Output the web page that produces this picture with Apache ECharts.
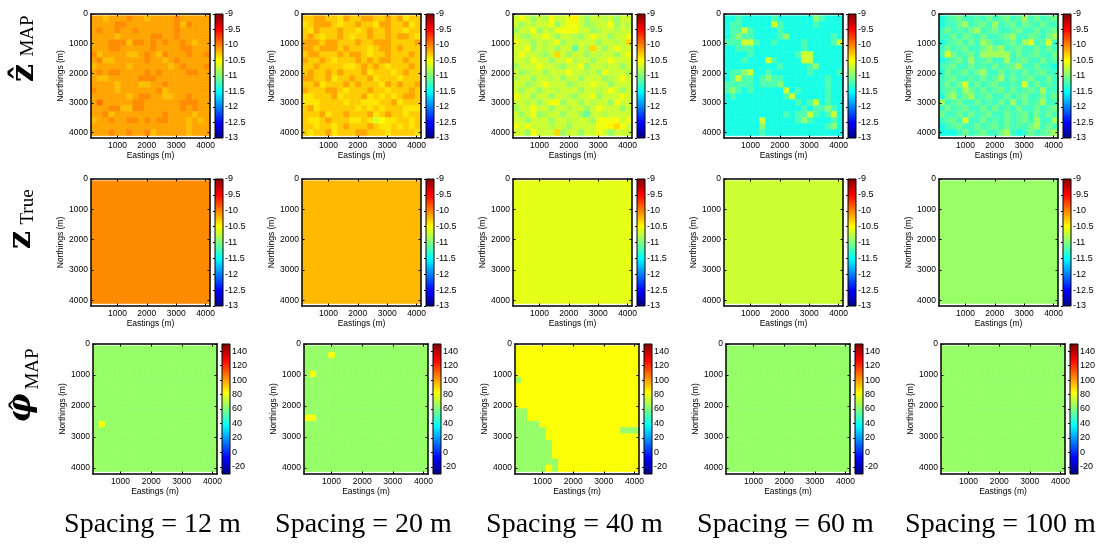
<!DOCTYPE html>
<html>
<head>
<meta charset="utf-8">
<script src="https://cdn.jsdelivr.net/npm/echarts@6/dist/echarts.min.js"></script>
<style>
  html, body { margin: 0; padding: 0; background: #fff; }
  #chart { width: 1104px; height: 547px; }
</style>
</head>
<body>
<div id="chart"></div>
<script>
// ---- data -------------------------------------------------------------
const spacings = ['12 m', '20 m', '40 m', '60 m', '100 m'];

// log-scale values on a 20 x 20 cell grid, one letter per cell
const zLevel = {
  a: -9.85, b: -9.9, c: -9.95, d: -10.0, e: -10.05, f: -10.1, g: -10.15, h: -10.2,
  i: -10.25, j: -10.3, k: -10.35, l: -10.4, m: -10.45, n: -10.5, o: -10.55, p: -10.6,
  q: -10.65, r: -10.7, s: -10.75, t: -10.8, u: -10.85, v: -10.9, w: -10.95, x: -11.0,
  y: -11.05, z: -11.1, A: -11.15, B: -11.2, C: -11.25, D: -11.3, E: -11.35, F: -11.4
};

const zMap12 = [
  'ggigggeggiggggeggggg', 'ggggeeggggggggeieggg', 'geggeggeggggggeggggg', 'ggggiggggg' + 'eeggeggggg',
  'gggeeeieeg' + 'egeggegigg', 'gggeeggggg' + 'eggggeeggg', 'eiggggiige' + 'giegggegge', 'geiiggggge' + 'ggigeggggg',
  'igggggiggg' + 'gggigeggge', 'gegeegggge' + 'geggggeegg', 'giigggggee' + 'eggggggggg', 'ggggigggii' + 'ggeggggggg',
  'egggiggggg' + 'geiggggggg', 'ggggggigee' + 'ggiiggeggg', 'gcgggggeeg' + 'gggggeeegg', 'gggeeiieeg' + 'gggggegegg',
  'ggeigggggg' + 'ggeggggigg', 'iggeggeege' + 'geegggigig', 'gggggggggg' + 'ggggggiggg', 'gggeggegge' + 'igggggiggg'
];
const zMap20 = [
  'jjggjjlgjjggjjgjgljj', 'ljgggjljjgjjlggjjglj', 'jlgjjjgjjljgjjgjjljj', 'jgjljjgjljjgjjgjggjl',
  'gggjggjjjgjjgggjjjjg', 'ggjgggjgjjjljggjgjjj', 'jggjjjgjggjljjgjjjgj', 'gjjgjljjjgjgjggjjgjj',
  'jjgjjjjlljgjgjljjjgj', 'jgjjgjgjjjgljjjljgjj', 'ggjjgljjgjjgljjjljjj', 'jjgljjjgjgjjjlgjgjjg',
  'gjjjggjljjjgjjljjjgj', 'lljjjgljjjgljljljggj', 'llljjjjljjllljjgljjj', 'jgljjjjjjljljljjjlll',
  'jjjgljjgjjjgljgjjljj', 'jlljgjjjlljlqnlljjlj', 'jjljjljgjjjgjlljljlj', 'jljjgljjjggjjjljjjjl'
];
const zMap40 = [
  'rorvrtorromrvrrtrvrr', 'rvrtrrovroorvtrrovrt', 'vrrovrtoooorrvtrrtrr', 'rtvrrorvrrtvrorrvrro',
  'orrvrtrovrtrrrvrrtrk', 'rrovrtrvrrzrtkrvrorr', 'rorrtvrkrvrrvrtrrvro', 'rrtorrvrrotrrvrrorrr',
  'vrrrorrtvrrovrrtrrvr', 'rvtrrvrrrorrtrvorrrt', 'trrvrrtrvrrvrrrvtror', 'rrvtrorrrvtrrorrvrrr',
  'rvrrvrrtrrrvrrtrorvr', 'orrvrrvrrtvrrovrrror', 'rrtrvroovrrvrtrrvorr', 'vrrorrvrrtrrvrorrrvr',
  'rvrovtrrvrrvzrrtrrrr', 'rrvrrrvrrtrrrvooooro', 'ororrrtrrvrrrroomkor', 'rrvorrrkvrrvrrorvrrr'
];
const zMap60 = [
  'FFBFFFFFBFFFFFFwBFFF', 'FBBFFFFFrBFFFFFBFFFF', 'FBBrBFFFFBFFFFFFFFFF', 'FBwBBFFFFBwFFFFFFFBF',
  'BBBrrBFFBFFFFBFFFFBr', 'FFBBBFFFFFFFFBFFFFFF', 'FFFFBFFFFFFFBrrFFFFF', 'FFFBFFFrBFFFFrrFFFFF',
  'FFFFFFFFFBFFFFBwFFFF', 'FBBwrFFBFFFFFFBFFFFB', 'FBrBBFBwBBFFFFFFFBFF', 'BBBBBFBBBwFFFFFFFBFF',
  'BwBFBFFFFFrFBFFFFBFF', 'FBFFFFFFFFBrFFFFFBFF', 'FFFFFFFFFFFFBFBrFBFF', 'FFFFFFFFFFFFFBFBBwBF',
  'FFFFFFFFFFBFBBrBFBrF', 'FFFFFFrFFFFFBwBFFFBF', 'FFFFFFwFFFFFFFFFFBwF', 'FFFFFFBFFFFFFFFFFFFF'
];
const zMap100 = [
  'FCAyCCACyCAyCAuCyCAy', 'FCCyuCAyCuCAyCyACyCC', 'CyCACyuCAyCCAyCCyCAy', 'CCyCyACyCCAyuCCyACyu',
  'FCAyCyCuyCCAyCuqCAqC', 'CyCAyCCyuyuCAyCCyCyC', 'CqyCAyCuuuuuCyCAyCCy', 'FCAyCuCAyCCuCAyCCyCA',
  'CAyCCyCACyCAyuCCyCCF', 'FyCAyCyuCCyCACyCAyCC', 'CAyCCACyCAuCyCAyCCyC', 'CyCyqCyCAyCCACqCyCAC',
  'CAyCuyCyCAyCyCAyCuCC', 'FyuCyuCAyCCyCAyCCyCy', 'uCAyCCyCACyCuCyCAuCC', 'CyCAyCCyCyCACyCCyCAy',
  'yCCyCyCAyCCyCAyCyCyC', 'CAyCqCCyCACyCAyCuCCu', 'FCAyCCyCAyCyCACyuCyC', 'FFFCyCAyCCyuCFCyCAyu'
];

// true (uniform) value for each spacing
const zTrue = [-10.05, -10.23, -10.6, -10.7, -10.9];

// phase estimates: G = 64, Y = 82
const phiLevel = { G: 64, Y: 82 };
const phiMap12 = [
  'GGGGGGGGGGGGGGGGGGGG', 'GGGGGGGGGGGGGGGGGGGG', 'GGGGGGGGGGGGGGGGGGGG', 'GGGGGGGGGGGGGGGGGGGG',
  'GGGGGGGGGGGGGGGGGGGG', 'GGGGGGGGGGGGGGGGGGGG', 'GGGGGGGGGGGGGGGGGGGG', 'GGGGGGGGGGGGGGGGGGGG',
  'GGGGGGGGGGGGGGGGGGGG', 'GGGGGGGGGGGGGGGGGGGG', 'GGGGGGGGGGGGGGGGGGGG', 'GGGGGGGGGGGGGGGGGGGG',
  'GYGGGGGGGGGGGGGGGGGG', 'GGGGGGGGGGGGGGGGGGGG', 'GGGGGGGGGGGGGGGGGGGG', 'GGGGGGGGGGGGGGGGGGGG',
  'GGGGGGGGGGGGGGGGGGGG', 'GGGGGGGGGGGGGGGGGGGG', 'GGGGGGGGGGGGGGGGGGGG', 'GGGGGGGGGGGGGGGGGGGG'
];
const phiMap20 = [
  'GGGGGGGGGGGGGGGGGGGG', 'GGGGYGGGGGGGGGGGGGGG', 'GGGGGGGGGGGGGGGGGGGG', 'GGGGGGGGGGGGGGGGGGGG',
  'GYGGGGGGGGGGGGGGGGGG', 'GGGGGGGGGGGGGGGGGGGG', 'GGGGGGGGGGGGGGGGGGGG', 'GGGGGGGGGGGGGGGGGGGG',
  'GGGGGGGGGGGGGGGGGGGG', 'GGGGGGGGGGGGGGGGGGGG', 'GGGGGGGGGGGGGGGGGGGG', 'YYGGGGGGGGGGGGGGGGGG',
  'GGGGGGGGGGGGGGGGGGGG', 'GGGGGGGGGGGGGGGGGGGG', 'GGGGGGGGGGGGGGGGGGGG', 'GGGGGGGGGGGGGGGGGGGG',
  'GGGGGGGGGGGGGGGGGGGG', 'GGGGGGGGGGGGGGGGGGGG', 'GGGGGGGGGGGGGGGGGGGG', 'GGGGGGGGGGGGGGGGGGGG'
];
const phiMap40 = [
  'YYYYYYYYYYYYYYYYYYYY', 'YYYYYYYYYYYYYYYYYYYY', 'YYYYYYYYYYYYYYYYYYYY', 'YYYYYYYYYYYYYYYYYYYY',
  'YYYYYYYYYYYYYYYYYYYY', 'GYYYYYYYYYYYYYYYYYYY', 'YYYYYYYYYYYYYYYYYYYY', 'YYYYYYYYYYYYYYYYYYYY',
  'YYYYYYYYYYYYYYYYYYYY', 'YYYYYYYYYYYYYYYYYYYY', 'GGYYYYYYYYYYYYYYYYYY', 'GGYYYYYYYYYYYYYYYYYY',
  'GGGGYYYYYYYYYYYYYYYY', 'GGGGGYYYYYYYYYYYYGGG', 'GGGGGYYYYYYYYYYYYYYY', 'GGGGGGYYYYYYYYYYYYYY',
  'GGGGGGYYYYYYYYYYYYYY', 'GGGGGGYYYYYYYYYYYYYY', 'GGGGGGGYYYYYYYYYYYYY', 'GGGGGYGYYYYYYYYYYYYY'
];
const phiMap60 = Array(20).fill('GGGGGGGGGGGGGGGGGGGG');
const phiMap100 = Array(20).fill('GGGGGGGGGGGGGGGGGGGG');

// axis ticks
const xTicks = [1000, 2000, 3000, 4000];
const yTicks = [0, 1000, 2000, 3000, 4000];
const zBarTicks = [-13, -12.5, -12, -11.5, -11, -10.5, -10, -9.5, -9];
const phiBarTicks = [-20, 0, 20, 40, 60, 80, 100, 120, 140];

// ---- geometry & style -----------------------------------------------
const X_MIN = 100, X_MAX = 4150, Y_MAX = 4190;   // axis extents (m)
const CELL_TOP = 60, CELL_BOTTOM = 4110;          // image extent in northing
const NX = 20, NY = 20;
const Z_RANGE = [-13, -9], PHI_RANGE = [-30, 150];

const JET = ['#00007F', '#0000FF', '#007FFF', '#00FFFF', '#7FFF7F',
             '#FFFF00', '#FF7F00', '#FF0000', '#7F0000'];

const ROW_TOP = [14, 179, 344];
const ROW_H = [124, 127, 130];
const COL_LEFT = [[91, 302, 513, 724, 939], [91, 302, 513, 724, 939], [93, 304, 515, 726, 941]];
const COL_W = [119, 119, 124];
const BAR_GAP = 5, BAR_W = 8;

const SANS = '"Liberation Sans", Arial, sans-serif';
const SERIF = '"Liberation Serif", "Times New Roman", serif';
const TICK_FONT = 8.5, BAR_FONT = 9;

function cellsFromRows(rows, lookup) {
  const cw = (X_MAX - X_MIN) / NX, ch = (CELL_BOTTOM - CELL_TOP) / NY;
  const out = [];
  rows.forEach((line, r) => {
    for (let c = 0; c < line.length; c++) {
      out.push([X_MIN + c * cw, CELL_TOP + r * ch, X_MIN + (c + 1) * cw, CELL_TOP + (r + 1) * ch, lookup[line[c]]]);
    }
  });
  return out;
}

function renderCell(params, api) {
  const a = api.coord([api.value(0), api.value(1)]);
  const b = api.coord([api.value(2), api.value(3)]);
  const color = api.visual('color');
  return {
    type: 'rect',
    shape: { x: Math.min(a[0], b[0]), y: Math.min(a[1], b[1]),
             width: Math.abs(b[0] - a[0]), height: Math.abs(b[1] - a[1]) },
    style: { fill: color, stroke: color, lineWidth: 0.6 }
  };
}

const jetStops = JET.map((c, i) => ({ offset: i / (JET.length - 1), color: c }));
function renderBar(params, api) {
  const a = api.coord([0, api.value(1)]);
  const b = api.coord([1, api.value(0)]);
  return {
    type: 'rect',
    shape: { x: a[0], y: a[1], width: b[0] - a[0], height: b[1] - a[1] },
    style: { fill: { type: 'linear', x: 0, y: 1, x2: 0, y2: 0, colorStops: jetStops },
             stroke: '#000', lineWidth: 1 }
  };
}

const panels = [
  [zMap12, zMap20, zMap40, zMap60, zMap100].map(rows => ({ data: cellsFromRows(rows, zLevel), scale: 'z' })),
  zTrue.map(v => ({ data: [[X_MIN, CELL_TOP, X_MAX, CELL_BOTTOM, v]], scale: 'z' })),
  [phiMap12, phiMap20, phiMap40, phiMap60, phiMap100].map(rows => ({ data: cellsFromRows(rows, phiLevel), scale: 'phi' }))
];

const grid = [], xAxis = [], yAxis = [], series = [];
const zSeries = [], phiSeries = [];
const lineStyle = { color: '#000', width: 1.5 };
const labelStyle = { color: '#000', fontSize: TICK_FONT, fontFamily: SANS };
const barLabelStyle = { color: '#000', fontSize: BAR_FONT, fontFamily: SANS };

panels.forEach((row, r) => {
  row.forEach((panel, c) => {
    const left = COL_LEFT[r][c], top = ROW_TOP[r], w = COL_W[r], h = ROW_H[r];
    // map panel
    const gi = grid.length;
    grid.push({ left, top, width: w, height: h, containLabel: false, outerBoundsMode: 'none' });
    const xi = xAxis.length;
    xAxis.push({
      gridIndex: gi, type: 'value', min: X_MIN, max: X_MAX, position: 'bottom', z: 5,
      name: 'Eastings (m)', nameLocation: 'middle', nameGap: 10,
      nameTextStyle: { color: '#000', fontSize: TICK_FONT, fontFamily: SANS },
      axisLine: { onZero: false, lineStyle },
      axisTick: { inside: true, length: 2.5, customValues: xTicks, lineStyle: { color: '#000', width: 1 } },
      axisLabel: Object.assign({ margin: 3, customValues: xTicks, formatter: v => String(v) }, labelStyle),
      splitLine: { show: false }
    });
    xAxis.push({
      gridIndex: gi, type: 'value', min: X_MIN, max: X_MAX, position: 'top', z: 5,
      axisLine: { onZero: false, lineStyle },
      axisTick: { inside: true, length: 2.5, customValues: xTicks, lineStyle: { color: '#000', width: 1 } },
      axisLabel: { show: false }, splitLine: { show: false }
    });
    const yi = yAxis.length;
    yAxis.push({
      gridIndex: gi, type: 'value', min: 0, max: Y_MAX, inverse: true, position: 'left', z: 5,
      name: 'Northings (m)', nameLocation: 'middle', nameGap: 24, nameRotate: 90,
      nameTextStyle: { color: '#000', fontSize: TICK_FONT, fontFamily: SANS },
      axisLine: { onZero: false, lineStyle },
      axisTick: { inside: true, length: 2.5, customValues: yTicks, lineStyle: { color: '#000', width: 1 } },
      axisLabel: Object.assign({ margin: 3, customValues: yTicks, formatter: v => String(v) }, labelStyle),
      splitLine: { show: false }
    });
    yAxis.push({
      gridIndex: gi, type: 'value', min: 0, max: Y_MAX, inverse: true, position: 'right', z: 5,
      axisLine: { onZero: false, lineStyle },
      axisTick: { inside: true, length: 2.5, customValues: yTicks, lineStyle: { color: '#000', width: 1 } },
      axisLabel: { show: false }, splitLine: { show: false }
    });
    (panel.scale === 'z' ? zSeries : phiSeries).push(series.length);
    series.push({
      type: 'custom', xAxisIndex: xi, yAxisIndex: yi, renderItem: renderCell,
      encode: { x: [0, 2], y: [1, 3] }, data: panel.data, clip: true, z: 2, silent: true
    });

    // colour bar
    const range = panel.scale === 'z' ? Z_RANGE : PHI_RANGE;
    const ticks = panel.scale === 'z' ? zBarTicks : phiBarTicks;
    const bi = grid.length;
    grid.push({ left: left + w + BAR_GAP, top, width: BAR_W, height: h, containLabel: false, outerBoundsMode: 'none' });
    const bxi = xAxis.length;
    xAxis.push({ gridIndex: bi, type: 'value', min: 0, max: 1, show: false });
    const byi = yAxis.length;
    yAxis.push({
      gridIndex: bi, type: 'value', min: range[0], max: range[1], position: 'right', z: 5,
      axisLine: { show: false },
      axisTick: { inside: true, length: 2, customValues: ticks, lineStyle: { color: '#000', width: 1 } },
      axisLabel: Object.assign({ margin: 2, customValues: ticks, formatter: v => String(v) }, barLabelStyle),
      splitLine: { show: false }
    });
    series.push({
      type: 'custom', xAxisIndex: bxi, yAxisIndex: byi, renderItem: renderBar,
      encode: { y: [0, 1] }, data: [[range[0], range[1]]], z: 2, silent: true
    });
  });
});

// row titles (rotated) and column captions
const graphic = [
  { type: 'text', x: 25, y: 73, rotation: Math.PI / 2,
    style: { text: 'ẑ', fontSize: 32, fontWeight: 'bold', fontFamily: '"DejaVu Serif", serif', fill: '#000', align: 'center', verticalAlign: 'middle' } },
  { type: 'text', x: 28, y: 36, rotation: Math.PI / 2,
    style: { text: 'MAP', fontSize: 19, fontFamily: SERIF, fill: '#000', align: 'center', verticalAlign: 'middle' } },
  { type: 'text', x: 22, y: 240, rotation: Math.PI / 2,
    style: { text: 'z', fontSize: 32, fontWeight: 'bold', fontFamily: '"DejaVu Serif", serif', fill: '#000', align: 'center', verticalAlign: 'middle' } },
  { type: 'text', x: 28, y: 207, rotation: Math.PI / 2,
    style: { text: 'True', fontSize: 19, fontFamily: SERIF, fill: '#000', align: 'center', verticalAlign: 'middle' } },
  { type: 'text', x: 22, y: 408, rotation: Math.PI / 2,
    style: { text: 'φ', fontSize: 32, fontWeight: 'bold', fontStyle: 'italic', fontFamily: '"DejaVu Serif", serif', fill: '#000', align: 'center', verticalAlign: 'middle' } },
  { type: 'text', x: 21, y: 405, rotation: Math.PI / 2,
    style: { text: 'ˆ', fontSize: 30, fontFamily: SERIF, fill: '#000', align: 'center', verticalAlign: 'middle' } },
  { type: 'text', x: 33, y: 369, rotation: Math.PI / 2,
    style: { text: 'MAP', fontSize: 19, fontFamily: SERIF, fill: '#000', align: 'center', verticalAlign: 'middle' } }
];
spacings.forEach((s, c) => {
  graphic.push({
    type: 'text', x: COL_LEFT[0][c] + COL_W[0] / 2 + 2, y: 525,
    style: { text: 'Spacing = ' + s, fontSize: 28, fontFamily: SERIF, fill: '#000', align: 'center', verticalAlign: 'middle' }
  });
});

const chart = echarts.init(document.getElementById('chart'), null, { renderer: 'canvas' });
chart.setOption({
  backgroundColor: '#fff',
  animation: false,
  grid, xAxis, yAxis, series, graphic,
  visualMap: [
    { type: 'continuous', show: false, seriesIndex: zSeries, dimension: 4,
      min: Z_RANGE[0], max: Z_RANGE[1], inRange: { color: JET } },
    { type: 'continuous', show: false, seriesIndex: phiSeries, dimension: 4,
      min: PHI_RANGE[0], max: PHI_RANGE[1], inRange: { color: JET } }
  ]
});
</script>
</body>
</html>
